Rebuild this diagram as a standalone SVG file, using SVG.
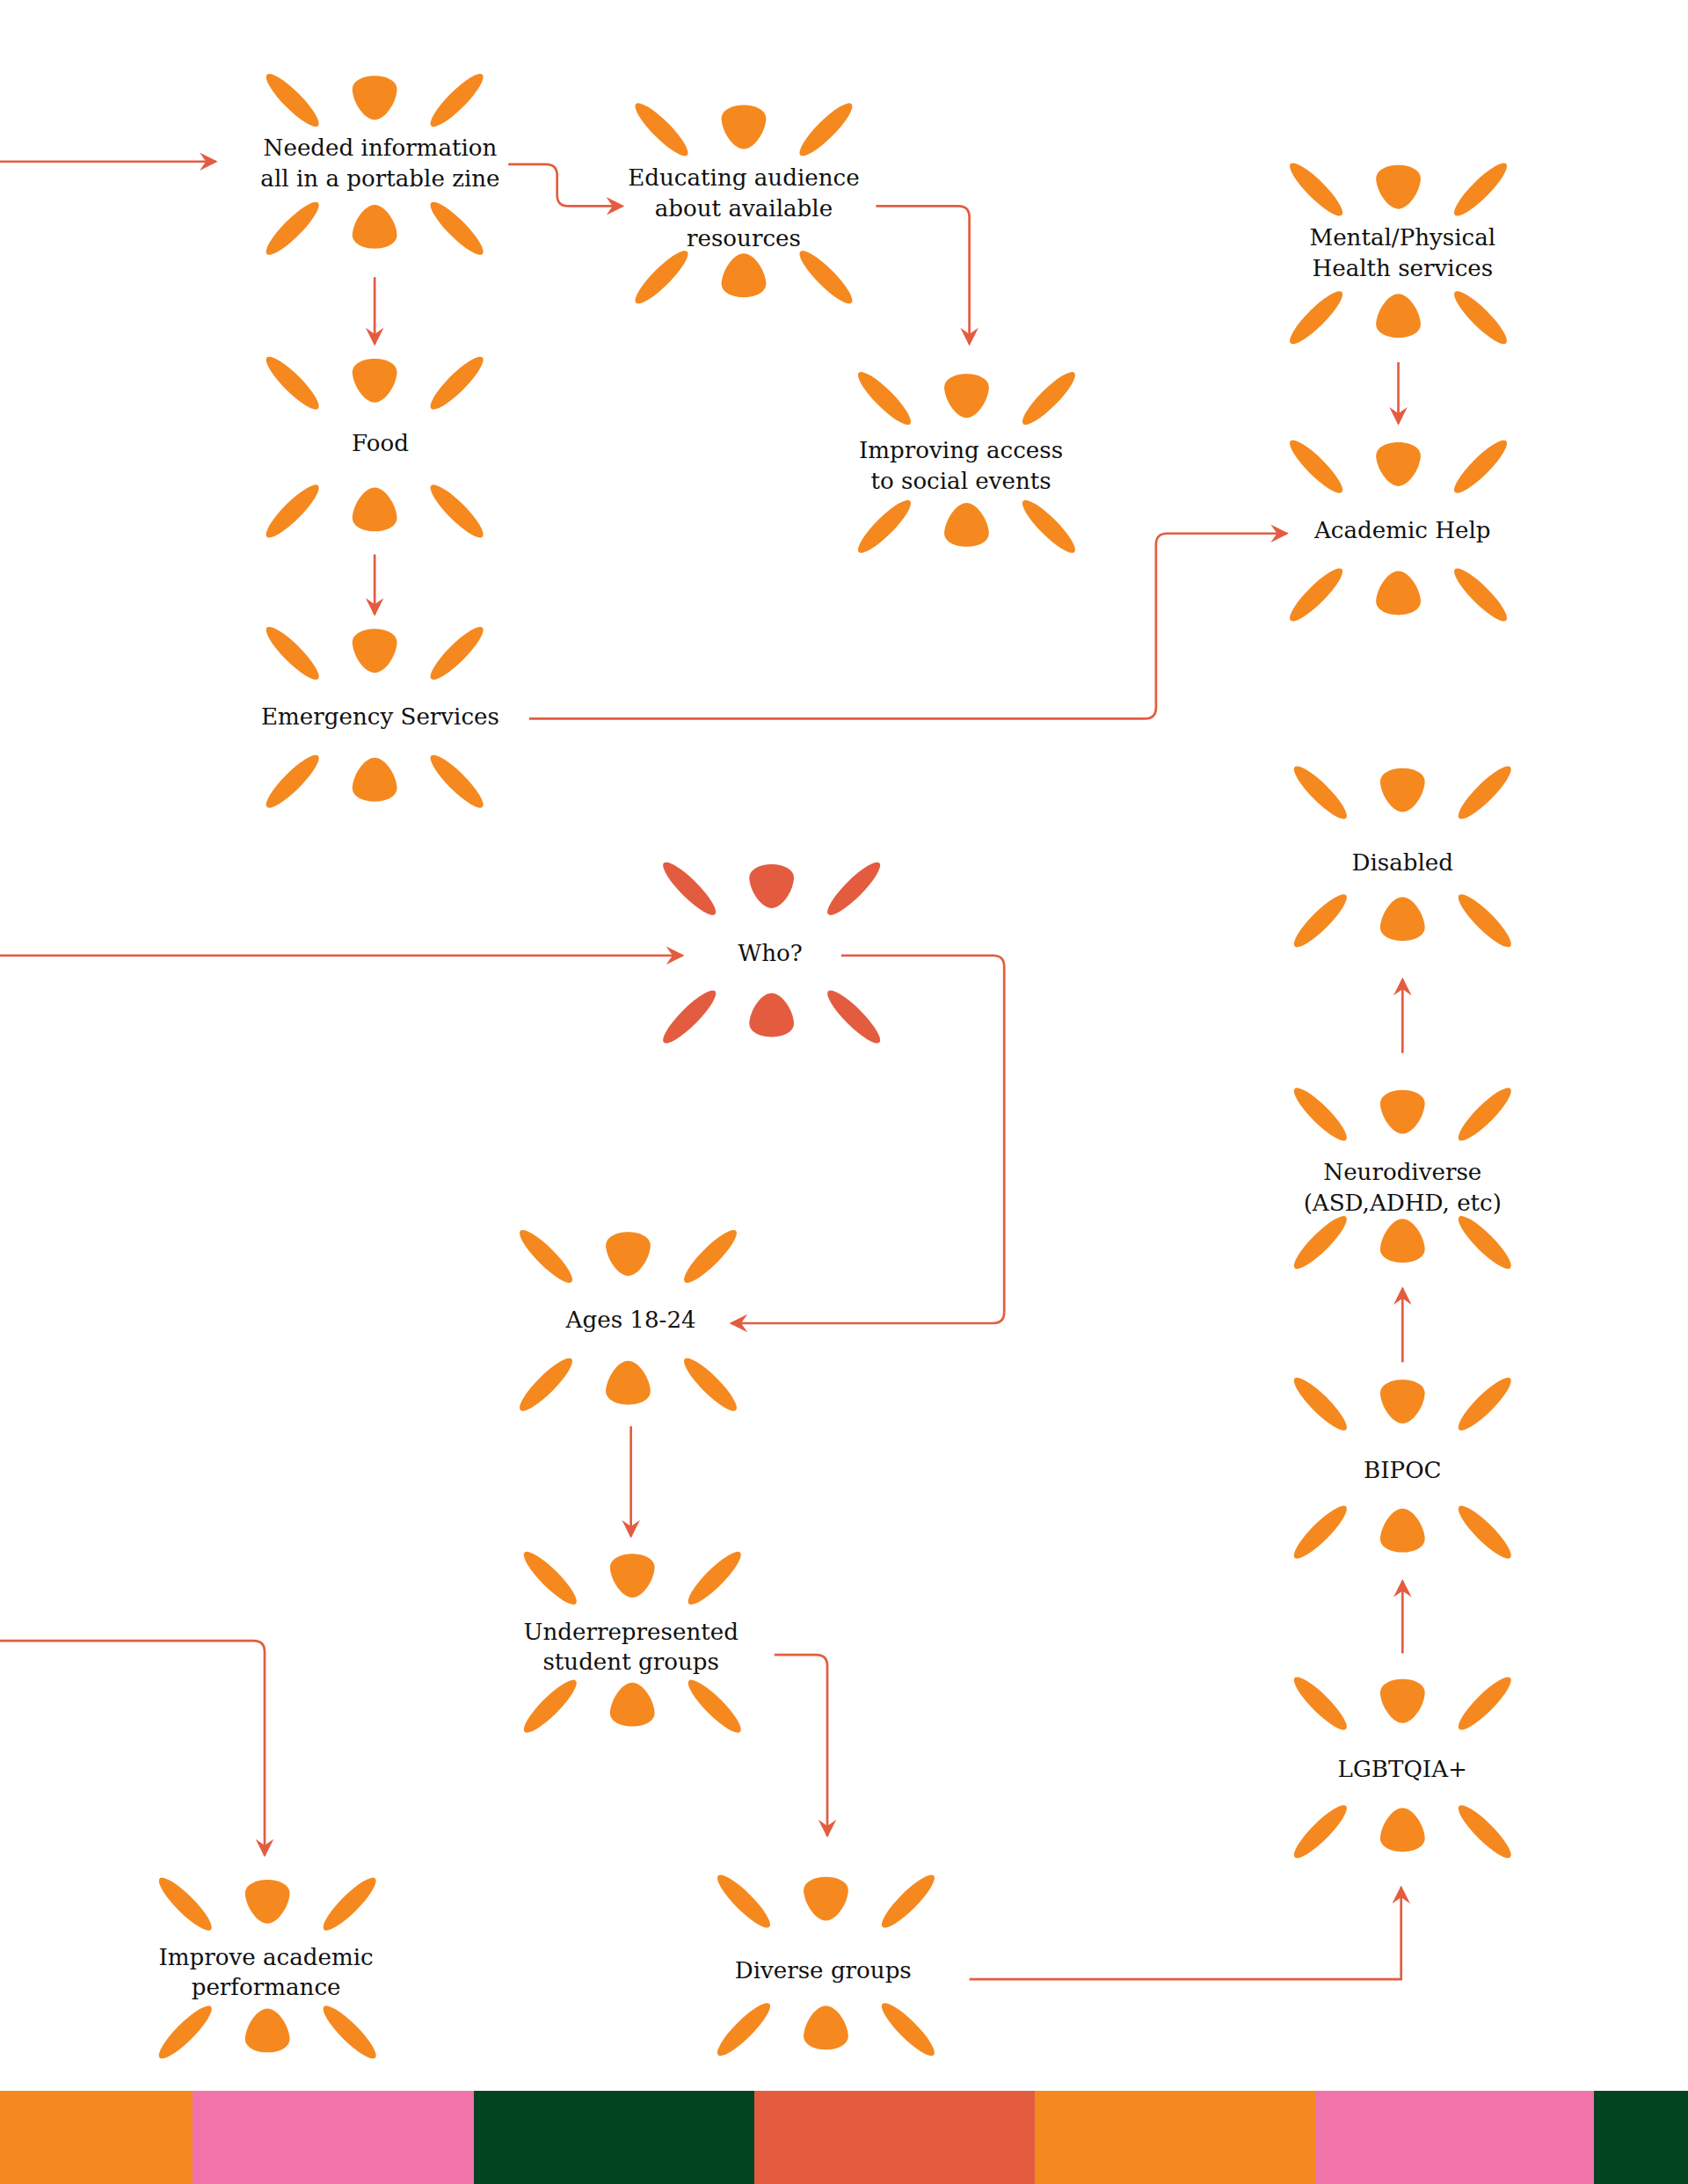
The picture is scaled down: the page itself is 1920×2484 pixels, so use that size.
<svg xmlns="http://www.w3.org/2000/svg" xmlns:xlink="http://www.w3.org/1999/xlink" width="1920" height="2484" viewBox="0 0 1920 2484">
<style>
.t{font-family:"DejaVu Serif","Liberation Serif",serif;font-size:16.5px;fill:#111;text-anchor:middle}
.c{fill:none;stroke:#e45c40;stroke-width:1.7;marker-end:url(#ah)}
.o{fill:#f5891f}.r{fill:#e45c40}
</style>
<defs>
<marker id="ah" viewBox="0 0 10 10" refX="9" refY="5" markerWidth="13" markerHeight="13" markerUnits="userSpaceOnUse" orient="auto"><path d="M0,0 L10,5 L0,10 L3.5,5Z" fill="#e45c40"/></marker>
<g id="tp">
<ellipse cx="-59" cy="-45" rx="26" ry="6.5" transform="rotate(45 -59 -45)"/>
<ellipse cx="59" cy="-45" rx="26" ry="6.5" transform="rotate(-45 59 -45)"/>
<path d="M-16,-52 C-17,-66 17,-66 16,-52 C15,-42 7,-31 0,-31 C-7,-31 -15,-42 -16,-52Z"/>
</g>
<g id="bt">
<ellipse cx="-59" cy="47" rx="26" ry="6.5" transform="rotate(-45 -59 47)"/>
<ellipse cx="59" cy="47" rx="26" ry="6.5" transform="rotate(45 59 47)"/>
<path d="M-16,51 C-17,65 17,65 16,51 C15,41 7,30 0,30 C-7,30 -15,41 -16,51Z"/>
</g>
<g id="fl"><use href="#tp"/><use href="#bt"/></g>
</defs>
<rect width="1920" height="2484" fill="#fff"/>
<g transform="scale(1.5842)">
<g id="connectors">
<path class="c" d="M0,116 H155"/>
<path class="c" d="M365,118 H392 Q400,118 400,126 V140 Q400,148 408,148 H447"/>
<path class="c" d="M629,148 H688 Q696,148 696,156 V247"/>
<path class="c" d="M269,199 V247"/>
<path class="c" d="M269,398 V441"/>
<path class="c" d="M380,516 H822 Q830,516 830,508 V391 Q830,383 838,383 H924"/>
<path class="c" d="M1004,260 V304"/>
<path class="c" d="M0,686 H490"/>
<path class="c" d="M604,686 H713 Q721,686 721,694 V942 Q721,950 713,950 H525"/>
<path class="c" d="M453,1024 V1103"/>
<path class="c" d="M556,1188 H586 Q594,1188 594,1196 V1318"/>
<path class="c" d="M0,1178 H182 Q190,1178 190,1186 V1332"/>
<path class="c" d="M696,1421 H1006 V1355"/>
<path class="c" d="M1007,1187 V1135"/>
<path class="c" d="M1007,978 V925"/>
<path class="c" d="M1007,756 V703"/>
</g>
<g id="n1"><use href="#fl" class="o" x="269" y="117"/><text class="t" x="273" y="112">Needed information</text><text class="t" x="273" y="134">all in a portable zine</text></g>
<g id="n2"><use href="#tp" class="o" x="534" y="138"/><use href="#bt" class="o" x="534" y="152"/><text class="t" x="534" y="133">Educating audience</text><text class="t" x="534" y="155">about available</text><text class="t" x="534" y="177">resources</text></g>
<g id="n3"><use href="#fl" class="o" x="269" y="320"/><text class="t" x="273" y="324">Food</text></g>
<g id="n4"><use href="#fl" class="o" x="269" y="514"/><text class="t" x="273" y="520">Emergency Services</text></g>
<g id="n5"><use href="#fl" class="o" x="694" y="331"/><text class="t" x="690" y="329">Improving access</text><text class="t" x="690" y="351">to social events</text></g>
<g id="n6"><use href="#fl" class="o" x="1004" y="181"/><text class="t" x="1007" y="176">Mental/Physical</text><text class="t" x="1007" y="198">Health services</text></g>
<g id="n7"><use href="#fl" class="o" x="1004" y="380"/><text class="t" x="1007" y="386">Academic Help</text></g>
<g id="n8"><use href="#fl" class="o" x="1007" y="614"/><text class="t" x="1007" y="625">Disabled</text></g>
<g id="n9"><use href="#fl" class="r" x="554" y="683"/><text class="t" x="553" y="690">Who?</text></g>
<g id="n10"><use href="#fl" class="o" x="1007" y="845"/><text class="t" x="1007" y="847">Neurodiverse</text><text class="t" x="1007" y="869">(ASD,ADHD, etc)</text></g>
<g id="n11"><use href="#fl" class="o" x="451" y="947"/><text class="t" x="453" y="953">Ages 18-24</text></g>
<g id="n12"><use href="#fl" class="o" x="1007" y="1053"/><text class="t" x="1007" y="1061">BIPOC</text></g>
<g id="n13"><use href="#fl" class="o" x="454" y="1178"/><text class="t" x="453" y="1177">Underrepresented</text><text class="t" x="453" y="1199">student groups</text></g>
<g id="n14"><use href="#fl" class="o" x="1007" y="1268"/><text class="t" x="1007" y="1276">LGBTQIA+</text></g>
<g id="n15"><use href="#fl" class="o" x="192" y="1412"/><text class="t" x="191" y="1411">Improve academic</text><text class="t" x="191" y="1432">performance</text></g>
<g id="n16"><use href="#fl" class="o" x="593" y="1410"/><text class="t" x="591" y="1420">Diverse groups</text></g>
</g>
<g id="bars">
<rect x="0" y="2378" width="219" height="106" fill="#f5891f"/>
<rect x="219" y="2378" width="320" height="106" fill="#f073a9"/>
<rect x="539" y="2378" width="319" height="106" fill="#034420"/>
<rect x="858" y="2378" width="319" height="106" fill="#e45c40"/>
<rect x="1177" y="2378" width="319" height="106" fill="#f5891f"/>
<rect x="1496" y="2378" width="317" height="106" fill="#f073a9"/>
<rect x="1813" y="2378" width="107" height="106" fill="#034420"/>
</g>
</svg>
